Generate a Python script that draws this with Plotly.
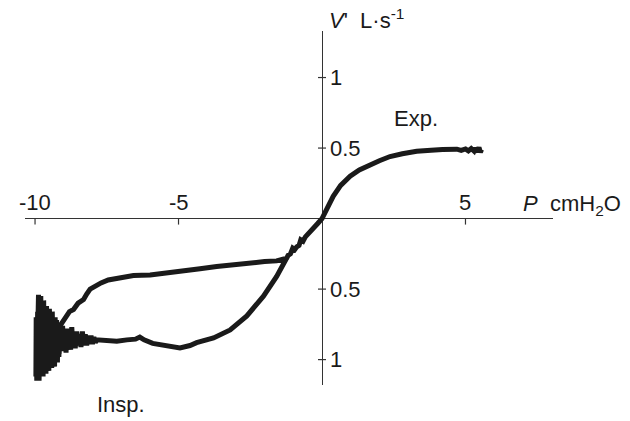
import plotly.graph_objects as go

# Expiratory limb (P cmH2O, V' L/s)
exp_p = [0, 0.1, 0.2, 0.39, 0.65, 0.98, 1.3, 1.56, 2.0, 2.37, 2.8, 3.3, 3.8, 4.2, 4.46,
         4.7, 4.85, 5.0, 5.1, 5.2, 5.3, 5.35, 5.42, 5.47, 5.52, 5.56]
exp_v = [0, 0.04, 0.08, 0.158, 0.235, 0.30, 0.345, 0.37, 0.41, 0.44, 0.46, 0.477, 0.485, 0.49, 0.487,
         0.492, 0.484, 0.494, 0.48, 0.497, 0.478, 0.5, 0.472, 0.505, 0.47, 0.49]

# Inspiratory: from origin to the crossing point
insp0_p = [0, -0.15, -0.3, -0.42, -0.5, -0.58, -0.66, -0.74, -0.8, -0.88, -0.95, -1.02, -1.1, -1.18, -1.23]
insp0_v = [0, -0.035, -0.07, -0.09, -0.12, -0.13, -0.16, -0.15, -0.19, -0.2, -0.22, -0.21, -0.25, -0.26, -0.28]

# Upper inspiratory branch
upper_p = [-1.23, -1.58, -2.0, -2.51, -3.1, -3.67, -4.25, -4.83, -5.4, -5.99, -6.57, -7.15, -7.45, -7.7,
           -7.9, -8.08, -8.2, -8.31, -8.5, -8.66, -8.8, -8.9, -9.0, -9.08, -9.13]
upper_v = [-0.28, -0.30, -0.305, -0.314, -0.325, -0.34, -0.355, -0.37, -0.385, -0.40, -0.404, -0.42, -0.435, -0.456,
           -0.475, -0.50, -0.535, -0.574, -0.6, -0.645, -0.66, -0.69, -0.72, -0.73, -0.76]

# Oscillating region near -10 cmH2O (leftward sweep, then back to the right)
osc_p = [-9.17, -9.2, -9.22, -9.25, -9.27, -9.3, -9.32, -9.35, -9.37, -9.4, -9.42, -9.45, -9.47, -9.5,
         -9.52, -9.55, -9.57, -9.6, -9.62, -9.65, -9.67, -9.7, -9.72, -9.75, -9.77, -9.8, -9.82, -9.84,
         -9.86, -9.88, -9.9, -9.92, -9.94, -9.96, -9.98, -9.99,
         -9.97, -9.95, -9.93, -9.91, -9.89, -9.87, -9.85, -9.83, -9.81, -9.79, -9.77, -9.75, -9.73, -9.71,
         -9.69, -9.67, -9.65, -9.62, -9.59, -9.56, -9.53, -9.5, -9.47, -9.44, -9.41, -9.38, -9.35, -9.32,
         -9.29, -9.26, -9.23, -9.2, -9.16, -9.12, -9.08, -9.04, -9.0, -8.96, -8.92, -8.88, -8.84, -8.8,
         -8.76, -8.72, -8.68, -8.64, -8.6, -8.55, -8.5, -8.45, -8.4, -8.35, -8.3, -8.25, -8.2, -8.15,
         -8.1, -8.05, -8.0, -7.95, -7.9, -7.85]
osc_v = [-0.98, -0.74, -1.02, -0.72, -0.96, -0.70, -1.05, -0.74, -1.0, -0.66, -1.06, -0.70, -0.98, -0.64,
         -1.08, -0.72, -1.02, -0.62, -1.1, -0.68, -1.04, -0.58, -1.12, -0.64, -1.08, -0.55, -1.14, -0.6,
         -1.15, -0.54, -1.12, -0.62, -1.15, -0.7, -1.1, -0.8,
         -1.12, -0.7, -1.08, -0.66, -1.13, -0.72, -1.06, -0.62, -1.1, -0.7, -1.04, -0.66, -1.08, -0.74,
         -1.02, -0.7, -1.05, -0.76, -1.0, -0.72, -1.04, -0.78, -0.98, -0.74, -1.0, -0.8, -0.96, -0.76,
         -0.98, -0.8, -0.95, -0.77, -0.96, -0.8, -0.94, -0.76, -0.93, -0.8, -0.95, -0.78, -0.92, -0.8,
         -0.93, -0.77, -0.91, -0.8, -0.92, -0.8, -0.9, -0.82, -0.91, -0.8, -0.9, -0.82, -0.9, -0.83,
         -0.89, -0.83, -0.89, -0.84, -0.88, -0.86]

# Lower inspiratory branch
lower_p = [-7.5, -7.15, -6.8, -6.5, -6.35, -6.2, -5.9, -5.6, -5.3, -4.95, -4.6, -4.37, -3.78, -3.2,
           -2.62, -2.04, -1.58, -1.23]
lower_v = [-0.865, -0.87, -0.86, -0.855, -0.84, -0.86, -0.885, -0.895, -0.91, -0.917, -0.9, -0.88, -0.846, -0.79,
           -0.69, -0.55, -0.41, -0.28]

xtick_vals = [-10, -5, 5]
xtick_text = ["-10", "-5", "5"]
ytick_vals = [1, 0.5, -0.5, -1]
ytick_text = ["1", "0.5", "0.5", "1"]

FONT = "Liberation Sans, Arial, sans-serif"
FS = 22
INK = "#1a1a1a"

loop_p = exp_p[::-1] + insp0_p[1:] + upper_p[1:] + osc_p + lower_p
loop_v = exp_v[::-1] + insp0_v[1:] + upper_v[1:] + osc_v + lower_v

fig = go.Figure()
fig.add_trace(go.Scatter(x=loop_p, y=loop_v, mode="lines",
                         line=dict(color=INK, width=5), hoverinfo="skip", showlegend=False))

shapes = []
for v in xtick_vals:
    shapes.append(dict(type="line", xref="x", yref="y", x0=v, x1=v,
                       ysizemode="pixel", yanchor=0, y0=0, y1=-6,
                       line=dict(color="#333", width=1.2)))
for v in ytick_vals:
    shapes.append(dict(type="line", xref="x", yref="y", y0=v, y1=v,
                       xsizemode="pixel", xanchor=0, x0=-4, x1=4,
                       line=dict(color="#333", width=1.2)))

annotations = []
for v, t in zip(xtick_vals, xtick_text):
    annotations.append(dict(x=v, y=0, xref="x", yref="y", text=t, showarrow=False,
                            xanchor="center", yanchor="bottom", yshift=2,
                            font=dict(family=FONT, size=FS, color=INK)))
for v, t in zip(ytick_vals, ytick_text):
    annotations.append(dict(x=0, y=v, xref="x", yref="y", text=t, showarrow=False,
                            xanchor="left", yanchor="middle", xshift=6,
                            font=dict(family=FONT, size=FS, color=INK)))
annotations += [
    dict(x=0, y=1.0, xref="x", yref="paper", text="<i>V</i>'  L·s<sup>-1</sup>", showarrow=False,
         xanchor="left", yanchor="bottom", xshift=5, yshift=-4, font=dict(family=FONT, size=FS, color=INK)),
    dict(x=1.0, y=0, xref="paper", yref="y", text="<i>P</i>  cmH<sub>2</sub>O", showarrow=False,
         xanchor="right", yanchor="bottom", xshift=70, yshift=-2, font=dict(family=FONT, size=FS, color=INK)),
    dict(x=3.28, y=0.71, xref="x", yref="y", text="Exp.", showarrow=False,
         xanchor="center", yanchor="middle", font=dict(family=FONT, size=FS, color=INK)),
    dict(x=-7.0, y=-0.055, xref="x", yref="paper", text="Insp.", showarrow=False,
         xanchor="center", yanchor="middle", font=dict(family=FONT, size=FS, color=INK)),
]

fig.update_layout(
    width=630, height=421,
    margin=dict(l=25, r=77, t=31, b=36),
    paper_bgcolor="white", plot_bgcolor="white",
    xaxis=dict(range=[-10.35, 8.05], showgrid=False, showticklabels=False, ticks="",
               zeroline=True, zerolinecolor="#333", zerolinewidth=1.2, showline=False),
    yaxis=dict(range=[-1.18, 1.33], showgrid=False, showticklabels=False, ticks="",
               zeroline=True, zerolinecolor="#333", zerolinewidth=1.2, showline=False),
    shapes=shapes, annotations=annotations,
)

fig.write_html("out.html")
